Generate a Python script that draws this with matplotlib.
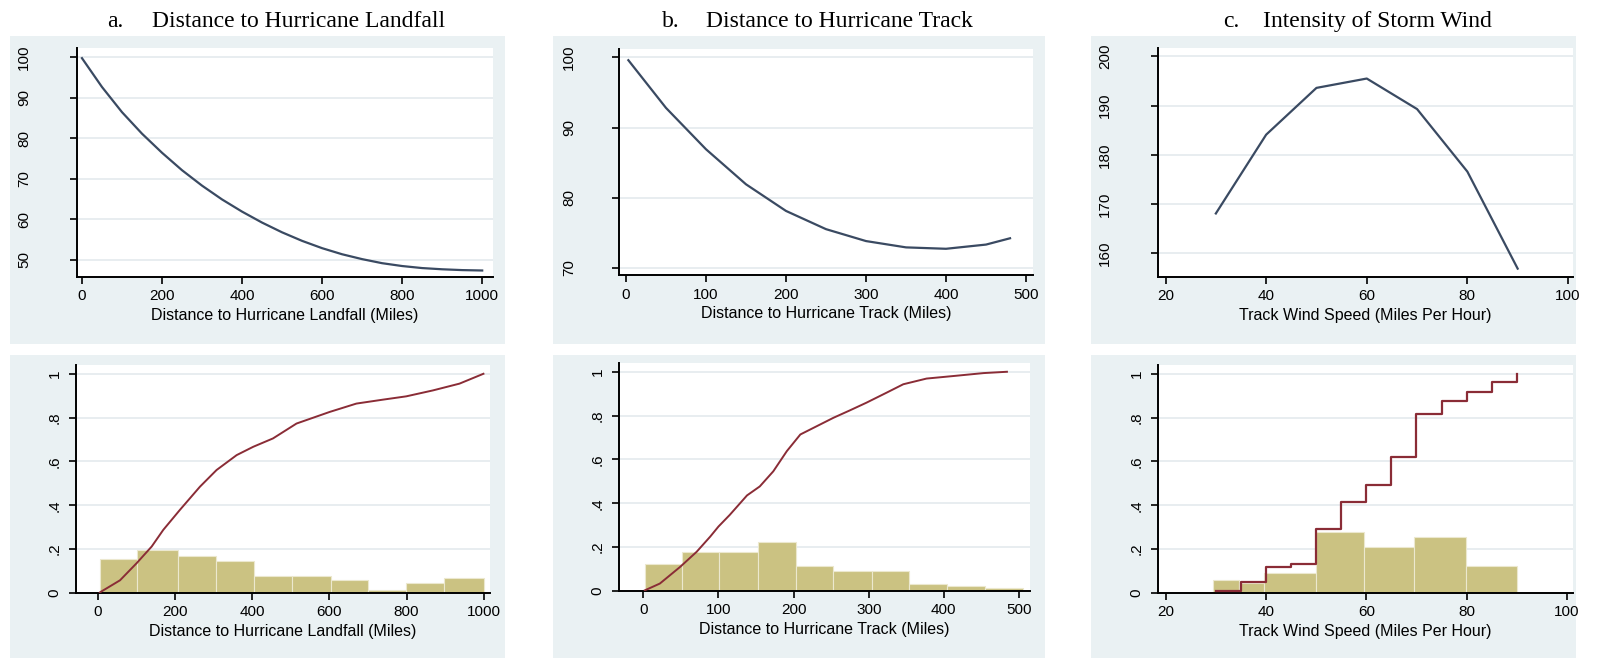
import matplotlib
matplotlib.use("Agg")
import matplotlib.pyplot as plt
from matplotlib.patches import Rectangle
import numpy as np

# ---------------------------------------------------------------------------
# data
# ---------------------------------------------------------------------------
# a. distance to landfall (top: fitted line, bottom: histogram + cdf)
landfall_x = [0, 50, 100, 150, 200, 250, 300, 350, 400, 450, 500,
              550, 600, 650, 700, 750, 800, 850, 900, 950, 1000]
landfall_y = [99.7, 92.6, 86.4, 81.1, 76.4, 72.1, 68.3, 64.9, 61.9, 59.2, 56.8,
              54.7, 52.9, 51.4, 50.2, 49.2, 48.5, 48.0, 47.7, 47.5, 47.4]
landfall_bins = [5, 103, 207, 306, 406, 503, 603, 700, 798, 897, 1000]
landfall_frac = [0.155, 0.197, 0.167, 0.147, 0.079, 0.079, 0.058, 0.015, 0.045, 0.068]
landfall_cdf_x = [5, 6, 58, 101, 140, 170, 213, 265, 308, 360, 403, 454, 515,
                  601, 670, 739, 799, 868, 937, 999]
landfall_cdf_y = [0.0, 0.003, 0.058, 0.136, 0.212, 0.288, 0.379, 0.485, 0.561, 0.629,
                  0.667, 0.705, 0.773, 0.826, 0.864, 0.882, 0.897, 0.924, 0.955, 1.0]

# b. distance to track
track_x = [3, 50, 100, 150, 200, 250, 300, 350, 400, 450, 480]
track_y = [99.6, 92.8, 86.9, 81.9, 78.1, 75.5, 73.8, 72.9, 72.7, 73.3, 74.2]
track_bins = [2, 51, 101, 152, 203, 253, 304, 354, 404, 455, 506]
track_frac = [0.122, 0.179, 0.179, 0.225, 0.113, 0.092, 0.092, 0.034, 0.021, 0.012]
track_cdf_x = [2, 22, 49, 71, 89, 100, 115, 138, 155, 173, 191, 209, 231, 253,
               275, 297, 324, 346, 377, 417, 453, 484]
track_cdf_y = [0.003, 0.034, 0.110, 0.179, 0.248, 0.294, 0.347, 0.436, 0.477, 0.546,
               0.638, 0.714, 0.752, 0.790, 0.824, 0.859, 0.905, 0.943, 0.969, 0.982,
               0.994, 1.0]

# c. intensity of storm wind
wind_x = [30, 40, 50, 60, 70, 80, 90]
wind_y = [168.1, 184.1, 193.6, 195.5, 189.3, 176.6, 156.9]
wind_bins = [29.5, 34.6, 39.7, 49.9, 59.6, 69.6, 79.8, 90]
wind_frac = [0.058, 0.045, 0.091, 0.276, 0.209, 0.255, 0.124]
wind_cdf_x = [30, 35, 40, 45, 50, 55, 60, 65, 70, 75, 80, 85, 90]
wind_cdf_y = [0.008, 0.048, 0.118, 0.132, 0.294, 0.414, 0.492, 0.621, 0.818,
              0.874, 0.915, 0.962, 1.0]

frac_ticks = [0, 0.2, 0.4, 0.6, 0.8, 1]
frac_labels = ["0", ".2", ".4", ".6", ".8", "1"]

# ---------------------------------------------------------------------------
# styling
# ---------------------------------------------------------------------------
BG = "#EAF1F3"
GRID = "#E1E8EC"
NAVY = "#3A4A62"
MAROON = "#8A2C36"
KHAKI = "#CBC282"
SANS = "Liberation Sans"
SERIF = "Liberation Serif"

W, H = 1606, 660
fig = plt.figure(figsize=(W / 100, H / 100), dpi=100)
fig.patch.set_facecolor("white")


def px_axes(left, top, right, bottom):
    return fig.add_axes([left / W, 1 - bottom / H, (right - left) / W, (bottom - top) / H])


def px_panel(left, top, right, bottom):
    fig.patches.append(Rectangle((left / W, 1 - bottom / H), (right - left) / W,
                                 (bottom - top) / H, transform=fig.transFigure,
                                 facecolor=BG, edgecolor="none", zorder=-10))


def style(ax, ypad):
    ax.set_facecolor("white")
    for s in ["top", "right"]:
        ax.spines[s].set_visible(False)
    for s in ["left", "bottom"]:
        ax.spines[s].set_linewidth(1.4)
        ax.spines[s].set_color("black")
    ax.tick_params(direction="out", length=5, width=1.2, labelsize=11, colors="black")
    ax.tick_params(axis="y", labelrotation=90, pad=ypad)
    ax.tick_params(axis="x", pad=4)
    ax.grid(axis="y", color=GRID, linewidth=1.1)
    ax.set_axisbelow(True)
    for lab in ax.get_xticklabels() + ax.get_yticklabels():
        lab.set_fontfamily(SANS)
    for lab in ax.get_yticklabels():
        lab.set_verticalalignment("center")


# panel backgrounds
for (l, r) in [(10, 505), (553, 1045), (1091, 1576)]:
    px_panel(l, 36, r, 344)
    px_panel(l, 355, r, 658)

# titles
for (xl, xt, letter, title) in [(107, 152, "a.", "Distance to Hurricane Landfall"),
                                 (662, 706, "b.", "Distance to Hurricane Track"),
                                 (1223, 1263, "c.", "Intensity of Storm Wind")]:
    fig.text(xl / W, 1 - 27 / H, letter, fontsize=17, family=SERIF, va="baseline")
    fig.text(xt / W, 1 - 27 / H, title, fontsize=17, family=SERIF, va="baseline")

# ---------------------------------------------------------------------------
# top row: fitted relationships
# ---------------------------------------------------------------------------
ax = px_axes(77, 48, 493, 277)
ax.plot(landfall_x, landfall_y, color=NAVY, linewidth=1.6)
ax.set_xlim(-12.4, 1027)
ax.set_ylim(45.8, 102.2)
ax.set_xticks([0, 200, 400, 600, 800, 1000])
ax.set_yticks([50, 60, 70, 80, 90, 100])
style(ax, 28)
ax.set_xlabel("Distance to Hurricane Landfall (Miles)", fontsize=11.5, family=SANS, labelpad=3)

ax = px_axes(619, 49, 1033, 275)
ax.plot(track_x, track_y, color=NAVY, linewidth=1.6)
ax.set_xlim(-8.7, 508.7)
ax.set_ylim(68.96, 101.2)
ax.set_xticks([0, 100, 200, 300, 400, 500])
ax.set_yticks([70, 80, 90, 100])
style(ax, 26)
ax.set_xlabel("Distance to Hurricane Track (Miles)", fontsize=11.5, family=SANS, labelpad=3)

ax = px_axes(1158, 48, 1573, 277)
ax.plot(wind_x, wind_y, color=NAVY, linewidth=1.6)
ax.set_xlim(18.5, 101)
ax.set_ylim(155.2, 201.7)
ax.set_xticks([20, 40, 60, 80, 100])
ax.set_yticks([160, 170, 180, 190, 200])
style(ax, 28)
ax.set_xlabel("Track Wind Speed (Miles Per Hour)", fontsize=11.5, family=SANS, labelpad=3)

# ---------------------------------------------------------------------------
# bottom row: histograms with cumulative distribution
# ---------------------------------------------------------------------------
panels = [
    ((76, 365, 490, 593), landfall_bins, landfall_frac, landfall_cdf_x, landfall_cdf_y,
     (-56, 1016), [0, 200, 400, 600, 800, 1000], "Distance to Hurricane Landfall (Miles)", None),
    ((619, 363, 1030, 591), track_bins, track_frac, track_cdf_x, track_cdf_y,
     (-32.4, 514.7), [0, 100, 200, 300, 400, 500], "Distance to Hurricane Track (Miles)", None),
    ((1158, 365, 1573, 593), wind_bins, wind_frac, wind_cdf_x, wind_cdf_y,
     (18.5, 101.2), [20, 40, 60, 80, 100], "Track Wind Speed (Miles Per Hour)", "steps-post"),
]
for rect, bins, frac, cx, cy, xlim, xticks, xlabel, ds in panels:
    ax = px_axes(*rect)
    edges = np.array(bins)
    ax.bar(edges[:-1], frac, width=np.diff(edges), align="edge", color=KHAKI,
           edgecolor="#ECE8CF", linewidth=0.8, zorder=2)
    if ds:
        ax.plot(cx, cy, color=MAROON, linewidth=1.6, drawstyle=ds, zorder=3)
    else:
        ax.plot(cx, cy, color=MAROON, linewidth=1.4, zorder=3)
    ax.set_xlim(*xlim)
    ax.set_ylim(0, 1.04)
    ax.set_xticks(xticks)
    ax.set_yticks(frac_ticks)
    ax.set_yticklabels(frac_labels)
    style(ax, 5.5)
    ax.set_xlabel(xlabel, fontsize=11.5, family=SANS, labelpad=3)

fig.savefig("out.png", dpi=100, facecolor="white")
